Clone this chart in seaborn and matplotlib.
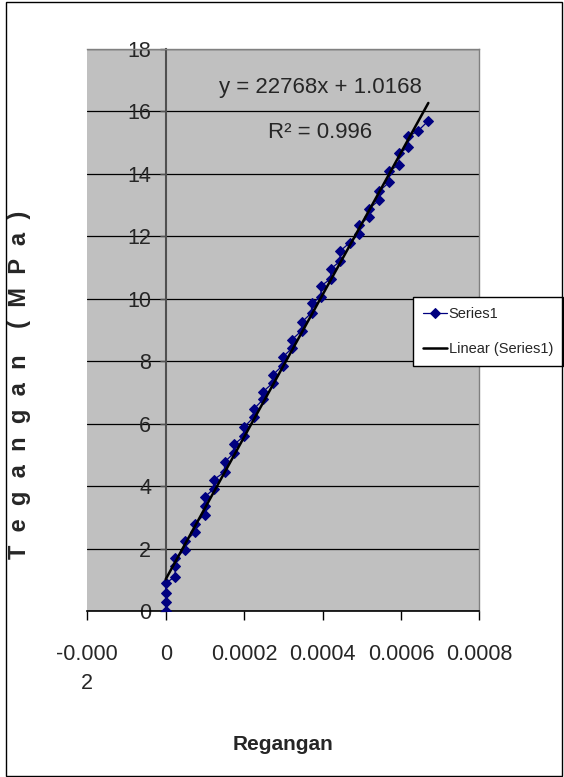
import matplotlib
matplotlib.use("Agg")
import matplotlib.pyplot as plt
import seaborn as sns
import numpy as np
import pandas as pd
from matplotlib.patches import Rectangle

# ---- data ----
strain = [0, 0, 0, 0,
          0.000024, 0.000024, 0.000024,
          0.000049, 0.000049,
          0.000075, 0.000075,
          0.000099, 0.000099, 0.000099,
          0.000123, 0.000123,
          0.000150, 0.000150,
          0.000175, 0.000175,
          0.000200, 0.000200,
          0.000224, 0.000224,
          0.000249, 0.000249,
          0.000273, 0.000273,
          0.000298, 0.000298,
          0.000322, 0.000322,
          0.000347, 0.000347,
          0.000372, 0.000372,
          0.000396, 0.000396,
          0.000421, 0.000421,
          0.000445, 0.000445,
          0.000469,
          0.000494, 0.000494,
          0.000519, 0.000519,
          0.000545, 0.000545,
          0.000570, 0.000570,
          0.000595, 0.000595,
          0.000619, 0.000619,
          0.000644,
          0.000670]
stress = [0.00, 0.30, 0.57, 0.89,
          1.10, 1.43, 1.69,
          1.96, 2.23,
          2.52, 2.80,
          3.09, 3.35, 3.65,
          3.91, 4.21,
          4.45, 4.77,
          5.07, 5.34,
          5.60, 5.89,
          6.20, 6.46,
          6.78, 7.03,
          7.30, 7.56,
          7.86, 8.13,
          8.41, 8.69,
          8.98, 9.25,
          9.55, 9.86,
          10.05, 10.41,
          10.64, 10.96,
          11.20, 11.53,
          11.79,
          12.09, 12.36,
          12.63, 12.89,
          13.16, 13.45,
          13.73, 14.09,
          14.29, 14.66,
          14.85, 15.20,
          15.38,
          15.70]
trend_slope = 22768
trend_intercept = 1.0168
x_ticks = [-0.0002, 0, 0.0002, 0.0004, 0.0006, 0.0008]
x_tick_labels = ["-0.000\n2", "0", "0.0002", "0.0004", "0.0006", "0.0008"]
y_ticks = [0, 2, 4, 6, 8, 10, 12, 14, 16, 18]
y_tick_labels = ["0", "2", "4", "6", "8", "10", "12", "14", "16", "18"]
series_name = "Series1"
trend_name = "Linear (Series1)"
equation_text = "y = 22768x + 1.0168"
r2_text = "R² = 0.996"
y_title = "T  e  g  a  n  g  a  n    (  M  P  a  )"
x_title = "Regangan"

sns.set_style("white")
plt.rcParams["font.family"] = ["Liberation Sans", "DejaVu Sans"]

W, H = 564, 777
fig = plt.figure(figsize=(W / 100, H / 100), dpi=100)
fig.patch.set_facecolor("white")

# plot area
L, R, T, B = 87.3, 479.3, 49, 611
ax = fig.add_axes([L / W, 1 - B / H, (R - L) / W, (B - T) / H])
ax.set_facecolor("#C0C0C0")

df = pd.DataFrame({"strain": strain, "stress": stress})
sns.lineplot(data=df, x="strain", y="stress", estimator=None, sort=False,
             color="#000080", lw=0.9, marker="D", markersize=5.5,
             markeredgecolor="#000080", markerfacecolor="#000080",
             label=series_name, ax=ax, zorder=3)

xt = np.array([0, max(strain)])
trend = pd.DataFrame({"x": xt, "y": trend_slope * xt + trend_intercept})
sns.lineplot(data=trend, x="x", y="y", color="black", lw=1.8,
             label=trend_name, ax=ax, zorder=4)

# spines first (moving a spine resets tick label styling)
for s in ("top", "right"):
    ax.spines[s].set_color("#808080")
    ax.spines[s].set_linewidth(1.0)
ax.spines["left"].set_position(("data", 0))
ax.spines["left"].set_color("#505050")
ax.spines["left"].set_linewidth(1.5)
ax.spines["bottom"].set_color("black")
ax.spines["bottom"].set_linewidth(1.2)

ax.set_xlim(-0.0002, 0.0008)
ax.set_ylim(0, 18)
ax.set_xticks(x_ticks)
ax.set_xticklabels(x_tick_labels, fontsize=15.5, linespacing=1.5)
ax.set_yticks(y_ticks)
ax.set_yticklabels(y_tick_labels, fontsize=15.5)
ax.set_xlabel("")
ax.set_ylabel("")

ax.set_axisbelow(True)
ax.yaxis.grid(True, color="black", lw=0.9)
ax.xaxis.grid(False)

ax.tick_params(axis="x", direction="out", length=6.5, width=1.0, color="black",
               pad=17, bottom=True, labelsize=15.5)
ax.tick_params(axis="y", direction="out", length=4.5, width=1.0, color="#505050",
               pad=6, left=True, labelsize=15.5)

# trendline labels
ax.text(0.594, 0.922, equation_text, transform=ax.transAxes, ha="center",
        va="baseline", fontsize=16)
ax.text(0.594, 0.842, r2_text, transform=ax.transAxes, ha="center",
        va="baseline", fontsize=16)

# legend
leg = ax.legend(loc="upper left", bbox_to_anchor=(413 / W, 1 - 297 / H),
                bbox_transform=fig.transFigure, frameon=True, fancybox=False,
                framealpha=1, edgecolor="black", fontsize=10.5,
                handlelength=1.6, handletextpad=0.15, borderpad=0.7,
                labelspacing=1.4, borderaxespad=0)
leg.get_frame().set_linewidth(1.0)

# axis titles
fig.text(20 / W, 1 - 385 / H, y_title, rotation=90,
         ha="center", va="center", fontsize=17, fontweight="bold")
fig.text(283 / W, 1 - 745 / H, x_title, ha="center", va="center",
         fontsize=15, fontweight="bold")

# chart-area border
fig.add_artist(Rectangle((6 / W, 1 / H), (562 - 6) / W, (775 - 1) / H,
                         transform=fig.transFigure, fill=False,
                         edgecolor="black", lw=1.0))

fig.savefig("out.png", dpi=100)
